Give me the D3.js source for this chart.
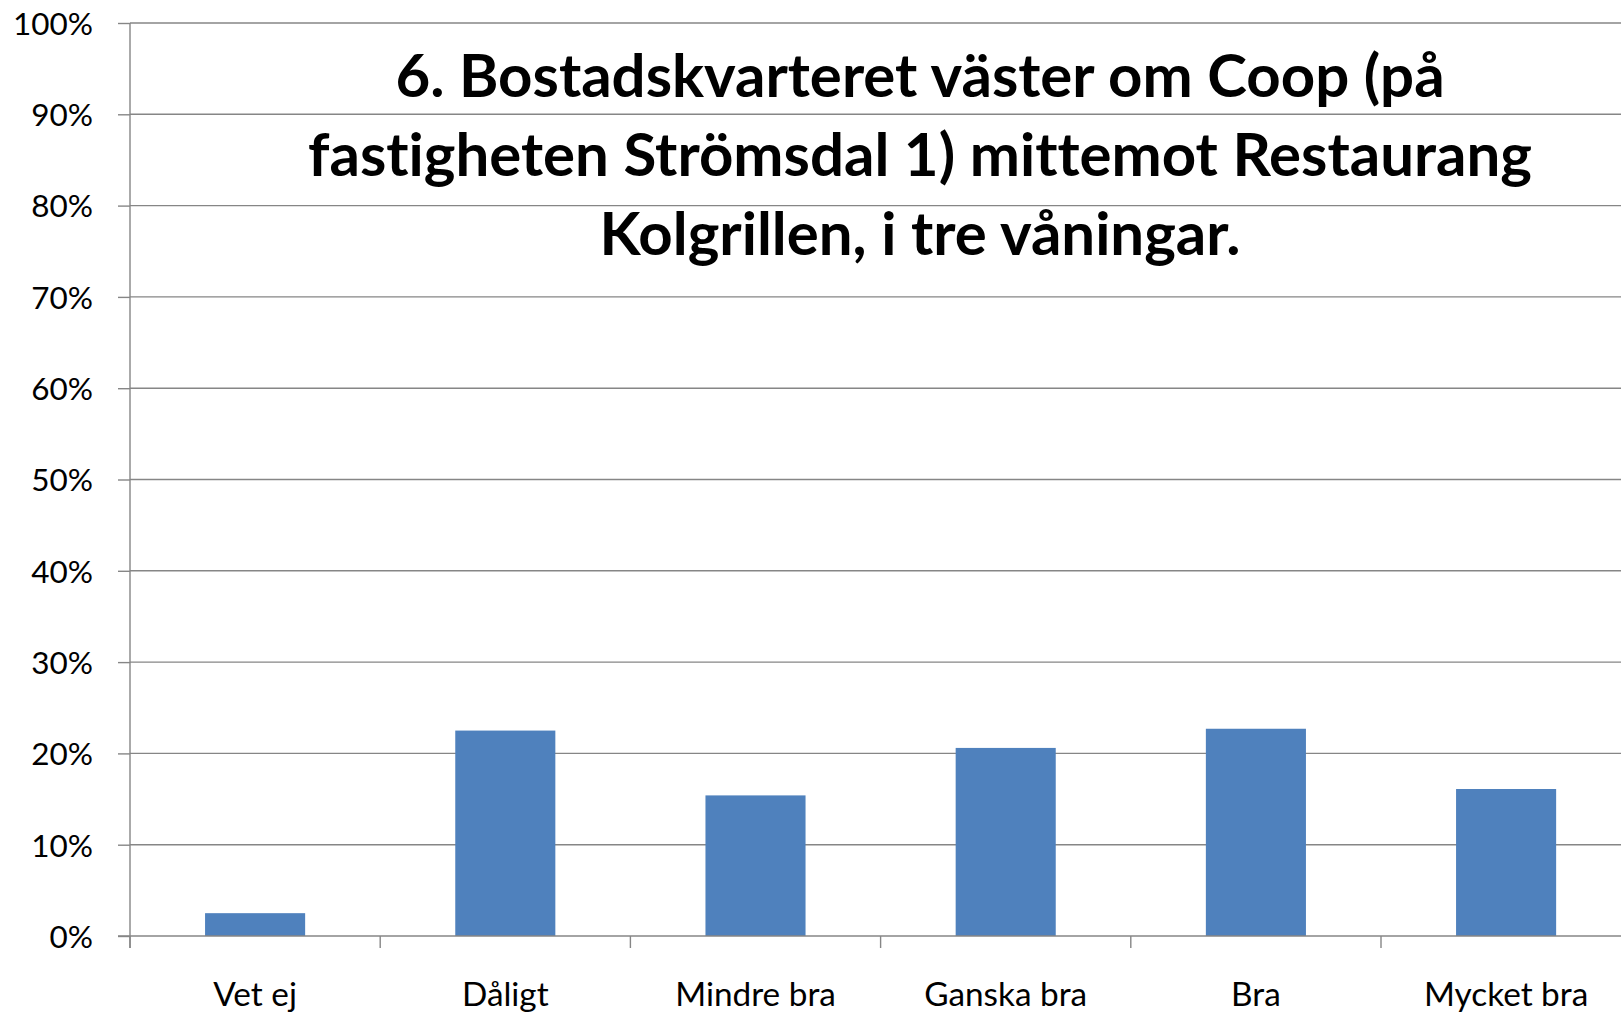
<!DOCTYPE html>
<html>
<head>
<meta charset="utf-8">
<script src="https://cdn.jsdelivr.net/npm/d3@7"></script>
<style>
  html, body { margin: 0; padding: 0; background: #fff; overflow: hidden; }
  svg { display: block; }
  text { font-variant-ligatures: none; font-feature-settings: "liga" 0, "dlig" 0; }
</style>
</head>
<body>
<svg id="chart" width="1621" height="1013"></svg>
<script>
// ---- data ----
const categories = ["Vet ej", "Dåligt", "Mindre bra", "Ganska bra", "Bra", "Mycket bra"];
const values = [0.025, 0.225, 0.154, 0.206, 0.227, 0.161];
const yTicks = [0, 0.1, 0.2, 0.3, 0.4, 0.5, 0.6, 0.7, 0.8, 0.9, 1.0];
const titleLines = [
  "6. Bostadskvarteret väster om Coop (på",
  "fastigheten Strömsdal 1) mittemot Restaurang",
  "Kolgrillen, i tre våningar."
];

const FONT = "Lato, 'Open Sans', sans-serif";
const svg = d3.select("#chart");

const plotLeft = 130, plotTop = 23, plotBottom = 936, step = 250.2;
const plotRight = plotLeft + step * categories.length;

const x = d3.scaleBand().domain(categories).range([plotLeft, plotRight]).padding(0);
const y = d3.scaleLinear().domain([0, 1]).range([plotBottom, plotTop]);

// helper to fit font size to a target width
function fitSize(text, weight, target, base) {
  const t = svg.append("text").attr("font-family", FONT).attr("font-weight", weight)
    .attr("font-size", base).text(text);
  const w = t.node().getComputedTextLength();
  t.remove();
  return base * target / w;
}
const tickSize = fitSize("100%", "normal", 80, 30);
const catSize = fitSize("Ganska bra", "normal", 163, 30);
const titleSize = fitSize(titleLines[1], "bold", 1224, 60);

// gridlines
svg.append("g").selectAll("line").data(yTicks.filter(d => d > 0)).join("line")
  .attr("x1", plotLeft).attr("x2", plotRight)
  .attr("y1", d => y(d)).attr("y2", d => y(d))
  .attr("stroke", "#868686").attr("stroke-width", 1.4);

// bars
svg.append("g").selectAll("rect").data(categories).join("rect")
  .attr("x", d => x(d) + x.bandwidth() * 0.3)
  .attr("width", x.bandwidth() * 0.4)
  .attr("y", (d, i) => y(values[i]))
  .attr("height", (d, i) => y(0) - y(values[i]))
  .attr("fill", "#4F81BD");

// y axis
const yAxis = d3.axisLeft(y).tickValues(yTicks).tickFormat(d3.format(".0%"))
  .tickSize(12).tickPadding(25);
const gy = svg.append("g").attr("transform", `translate(${plotLeft},0)`).call(yAxis);
gy.select(".domain").attr("stroke", "#868686").attr("stroke-width", 1.4)
  .attr("d", `M0,${plotTop}V${plotBottom + 12}`);
gy.selectAll(".tick line").attr("stroke", "#868686").attr("stroke-width", 1.4);
gy.selectAll(".tick text").attr("font-family", FONT).attr("font-size", tickSize)
  .attr("fill", "#000").attr("dy", "0.36em");

// x axis
const xAxis = d3.axisBottom(x).tickSize(0).tickPadding(0);
const gx = svg.append("g").attr("transform", `translate(0,${plotBottom})`).call(xAxis);
gx.select(".domain").attr("stroke", "#868686").attr("stroke-width", 1.4)
  .attr("d", `M${plotLeft - 12},0H${plotRight}`);
gx.selectAll(".tick text").attr("font-family", FONT).attr("font-size", catSize)
  .attr("fill", "#000").attr("y", 70).attr("dy", 0);
// category boundary ticks
gx.append("g").selectAll("line").data(d3.range(categories.length + 1)).join("line")
  .attr("x1", i => plotLeft + i * x.step()).attr("x2", i => plotLeft + i * x.step())
  .attr("y1", 0).attr("y2", 12)
  .attr("stroke", "#868686").attr("stroke-width", 1.4);

// title
const title = svg.append("text").attr("font-family", FONT).attr("font-weight", "bold")
  .attr("font-size", titleSize).attr("text-anchor", "middle").attr("fill", "#000");
const baselines = [97, 176, 255];
titleLines.forEach((l, i) => {
  title.append("tspan").attr("x", 920).attr("y", baselines[i]).text(l);
});
</script>
</body>
</html>
